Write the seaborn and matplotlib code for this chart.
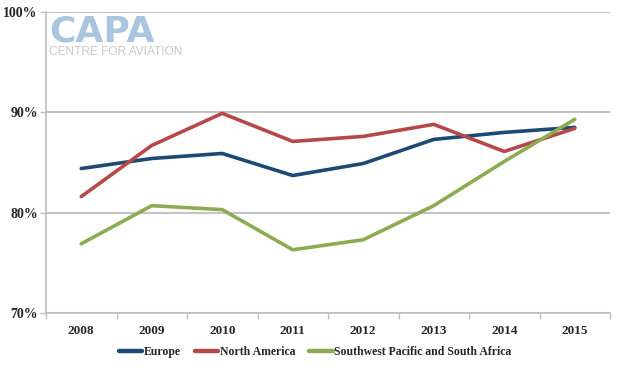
import matplotlib
matplotlib.use("Agg")
import matplotlib.pyplot as plt
import seaborn as sns
import pandas as pd
from matplotlib.ticker import FixedLocator, PercentFormatter

years = ["2008", "2009", "2010", "2011", "2012", "2013", "2014", "2015"]
europe = [84.4, 85.4, 85.9, 83.7, 84.9, 87.3, 88.0, 88.5]
north_america = [81.6, 86.7, 89.9, 87.1, 87.6, 88.8, 86.1, 88.4]
sw_pacific = [76.9, 80.7, 80.3, 76.3, 77.3, 80.7, 85.1, 89.3]
series_names = ["Europe", "North America", "Southwest Pacific and South Africa"]
y_ticks = [70, 80, 90, 100]

rows = []
for name, vals in zip(series_names, [europe, north_america, sw_pacific]):
    for i, (yr, v) in enumerate(zip(years, vals)):
        rows.append({"idx": i, "year": yr, "value": v, "series": name})
df = pd.DataFrame(rows)

sns.set_theme(style="white")
plt.rcParams["font.family"] = ["Liberation Serif", "DejaVu Serif"]

fig = plt.figure(figsize=(6.2, 3.71), dpi=100)
ax = fig.add_axes([46/620, 58/371, (610-46)/620, (313-12)/371])

palette = {"Europe": "#1d4a74", "North America": "#b5494a",
           "Southwest Pacific and South Africa": "#8cab52"}
sns.lineplot(data=df, x="idx", y="value", hue="series", palette=palette,
             linewidth=2.6, ax=ax, legend=True, sort=False)

ax.set_xlim(-0.5, len(years) - 0.5)
ax.set_ylim(70, 100)
ax.set_xticks(range(len(years)))
ax.set_xticklabels(years, fontweight="bold", fontsize=9.5)
ax.xaxis.set_minor_locator(FixedLocator([i - 0.5 for i in range(len(years) + 1)]))
ax.tick_params(axis="x", which="major", length=0, pad=9)
ax.tick_params(axis="x", which="minor", length=4, color="#bfbfbf", width=1, direction="out", bottom=True)
ax.set_yticks(y_ticks)
ax.yaxis.set_major_formatter(PercentFormatter(decimals=0))
ax.tick_params(axis="y", length=4, color="#bfbfbf", width=1, direction="out", left=True, pad=2)
for lab in ax.get_yticklabels():
    lab.set_fontweight("bold")
    lab.set_fontsize(10)
ax.set_xlabel("")
ax.set_ylabel("")
ax.grid(axis="y", color="#c4c4c4", linewidth=1.5)
ax.set_axisbelow(True)
for s in ["top", "right"]:
    ax.spines[s].set_visible(False)
for s in ["left", "bottom"]:
    ax.spines[s].set_color("#bfbfbf")
    ax.spines[s].set_linewidth(1.2)

leg = ax.legend(loc="center", bbox_to_anchor=(315/620, 1 - 352/371),
                bbox_transform=fig.transFigure, ncol=3, frameon=False,
                prop={"weight": "bold", "size": 8.5}, handlelength=2.0,
                handletextpad=0.1, columnspacing=1.2)
for h in leg.get_lines():
    h.set_linewidth(3.2)
    h.set_solid_capstyle("round")

# Logo watermark
fig.text(49/620, 1 - 42/371, "CAPA", fontsize=26, fontweight="bold",
         color="#a9c5e0", family="DejaVu Sans", ha="left", va="baseline")
fig.text(49/620, 1 - 55/371, "CENTRE FOR AVIATION", fontsize=8.6,
         color="#c8c8c8", family="Liberation Sans", ha="left", va="baseline")

fig.savefig("out.png", dpi=100)
